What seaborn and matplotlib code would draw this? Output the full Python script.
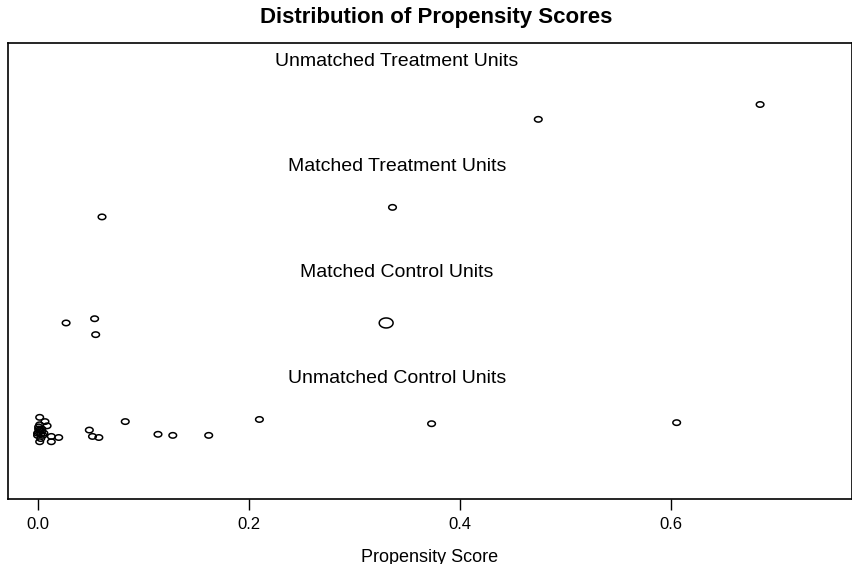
import numpy as np
import pandas as pd
import seaborn as sns
import matplotlib.pyplot as plt
from matplotlib.path import Path
plt.switch_backend('agg')

# propensity scores, with the vertical jitter of each point
ut_score = [0.474, 0.684]
ut_jit = [3.58, 3.72]
mt_score = [0.061, 0.336]
mt_jit = [2.66, 2.75]
mc_score = [0.027, 0.054, 0.055, 0.330]
mc_jit = [1.66, 1.70, 1.55, 1.66]
mc_weight = [1, 1, 1, 3]
uc_score = [0.002, 0.007, 0.009, 0.002, 0.000, 0.005, 0.013, 0.020, 0.002, 0.013,
            0.001, 0.003, 0.001, 0.004, 0.000, 0.002, 0.003, 0.001, 0.006, 0.004,
            0.049, 0.052, 0.058, 0.083, 0.114, 0.128, 0.162, 0.210, 0.373, 0.605]
uc_jit = [0.77, 0.73, 0.69, 0.65, 0.62, 0.60, 0.59, 0.58, 0.54, 0.54,
          0.63, 0.61, 0.66, 0.64, 0.60, 0.70, 0.57, 0.68, 0.62, 0.66,
          0.65, 0.59, 0.58, 0.73, 0.61, 0.60, 0.60, 0.75, 0.71, 0.72]

group_labels = ['Unmatched Treatment Units', 'Matched Treatment Units',
                'Matched Control Units', 'Unmatched Control Units']
label_y = [4.13, 3.14, 2.14, 1.14]

df = pd.concat([
    pd.DataFrame({'score': ut_score, 'y': ut_jit, 'w': 1}),
    pd.DataFrame({'score': mt_score, 'y': mt_jit, 'w': 1}),
    pd.DataFrame({'score': mc_score, 'y': mc_jit, 'w': mc_weight}),
    pd.DataFrame({'score': uc_score, 'y': uc_jit, 'w': 1}),
], ignore_index=True)

# the reference is stretched sideways, so circles look like flat ellipses
t = np.linspace(0, 2 * np.pi, 40)
ellipse = Path(np.column_stack([np.cos(t), 0.72 * np.sin(t)]), closed=True)

sns.set_style('white')
plt.rcParams['font.family'] = ['Liberation Sans', 'DejaVu Sans']

fig = plt.figure(figsize=(8.52, 5.64), dpi=100)
ax = fig.add_axes([8 / 852, 65 / 564, 1 - 8 / 852, (499 - 43) / 564])

sns.scatterplot(data=df, x='score', y='y', size='w', sizes=(30, 100),
                marker=ellipse, facecolors='none', edgecolor='black', linewidth=1.1,
                legend=False, ax=ax)

for lab, yy in zip(group_labels, label_y):
    ax.text(0.340, yy, lab, ha='center', va='center', fontsize=14, color='black')

ax.set_xlim(-0.028, 0.771)
ax.set_ylim(0, 4.30)
ax.set_xticks([0.0, 0.2, 0.4, 0.6])
ax.set_xticklabels(['0.0', '0.2', '0.4', '0.6'])
ax.set_yticks([])
ax.set_ylabel('')
ax.tick_params(axis='x', direction='out', length=8, width=1, pad=5,
               labelsize=12, bottom=True, color='black', labelcolor='black')
ax.set_xlabel('Propensity Score', fontsize=13, labelpad=12, color='black')
for s in ax.spines.values():
    s.set_color('black')
    s.set_linewidth(1.2)

fig.text(436 / 852, 1 - 17 / 564, 'Distribution of Propensity Scores',
         ha='center', va='center', fontsize=16, fontweight='bold', color='black')

fig.savefig('out.png', dpi=100)
